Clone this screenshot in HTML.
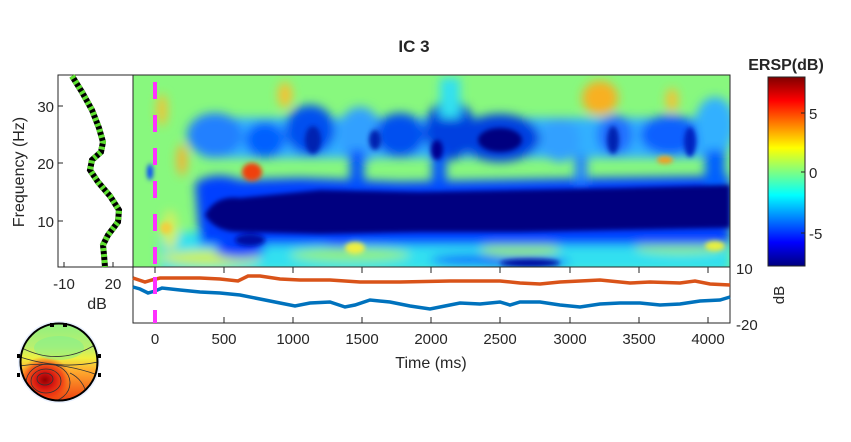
<!DOCTYPE html>
<html><head><meta charset="utf-8"><style>
body{margin:0;background:#fff;}
svg text{font-family:"Liberation Sans",Arial,sans-serif;fill:#262626;}
</style></head><body>
<svg width="851" height="437" viewBox="0 0 851 437" xmlns="http://www.w3.org/2000/svg">
<defs>
<filter id="b6" x="-50%" y="-50%" width="200%" height="200%"><feGaussianBlur stdDeviation="5"/></filter>
<filter id="b3" x="-50%" y="-50%" width="200%" height="200%"><feGaussianBlur stdDeviation="2.5"/></filter>
<clipPath id="cm"><rect x="133" y="75" width="597" height="192"/></clipPath>
<clipPath id="ct"><circle cx="59" cy="362" r="38"/></clipPath>
<linearGradient id="jet" x1="0" y1="1" x2="0" y2="0">
<stop offset="0" stop-color="#000080"/><stop offset="0.125" stop-color="#0000ff"/>
<stop offset="0.375" stop-color="#00ffff"/><stop offset="0.5" stop-color="#80ff80"/>
<stop offset="0.625" stop-color="#ffff00"/><stop offset="0.875" stop-color="#ff0000"/>
<stop offset="1" stop-color="#800000"/></linearGradient>
<linearGradient id="tg" x1="0" y1="0" x2="0" y2="1">
<stop offset="0" stop-color="#90f080"/><stop offset="0.3" stop-color="#b8f070"/>
<stop offset="0.45" stop-color="#f0f040"/><stop offset="0.6" stop-color="#ffb030"/>
<stop offset="1" stop-color="#f04010"/></linearGradient>
<radialGradient id="tr" cx="0.5" cy="0.5" r="0.5">
<stop offset="0" stop-color="#900000"/><stop offset="0.3" stop-color="#d01010"/>
<stop offset="0.7" stop-color="#f03010" stop-opacity="0.7"/><stop offset="1" stop-color="#f06010" stop-opacity="0"/></radialGradient>
</defs>
<text x="414" y="52" font-size="17" font-weight="bold" text-anchor="middle" fill="#000">IC 3</text>

<g clip-path="url(#cm)">
<rect x="133" y="75" width="597" height="192" fill="#88f87e"/>
<g filter="url(#b6)">
<rect x="160" y="232" width="570" height="40" fill="#30e0f0"/>
<ellipse cx="350" cy="255" rx="60" ry="7" fill="#90f080"/>
<ellipse cx="520" cy="250" rx="40" ry="7" fill="#90f080"/>
<ellipse cx="680" cy="248" rx="45" ry="6" fill="#90f080"/>
<ellipse cx="210" cy="258" rx="50" ry="8" fill="#c8f060"/>
<ellipse cx="240" cy="250" rx="25" ry="8" fill="#0040ff"/>
<ellipse cx="340" cy="242" rx="20" ry="5" fill="#0050ff"/>
<ellipse cx="520" cy="262" rx="50" ry="5" fill="#0050ff"/>
<ellipse cx="470" cy="260" rx="40" ry="5" fill="#0060ff"/>
<path d="M195,183 Q215,170 240,180 L300,178 L400,182 L500,180 L600,178 L730,176 L730,245 L200,245 Z" fill="#0040ff"/>
<rect x="195" y="118" width="535" height="40" rx="15" fill="#30b0ff"/>
<ellipse cx="215" cy="135" rx="28" ry="22" fill="#2080ff"/>
<ellipse cx="265" cy="140" rx="20" ry="18" fill="#0060ff"/>
<ellipse cx="310" cy="130" rx="25" ry="25" fill="#0050f0"/>
<ellipse cx="360" cy="135" rx="22" ry="28" fill="#30a0ff"/>
<ellipse cx="400" cy="135" rx="25" ry="22" fill="#0050f0"/>
<ellipse cx="450" cy="130" rx="25" ry="30" fill="#0040e0"/>
<ellipse cx="500" cy="138" rx="40" ry="24" fill="#0040e0"/>
<ellipse cx="560" cy="140" rx="20" ry="22" fill="#30a0ff"/>
<ellipse cx="615" cy="135" rx="18" ry="20" fill="#2070ff"/>
<ellipse cx="670" cy="135" rx="30" ry="20" fill="#1060ff"/>
<ellipse cx="715" cy="125" rx="20" ry="28" fill="#30b0ff"/>
<rect x="440" y="78" width="20" height="40" fill="#30e0f0"/>
<rect x="350" y="150" width="14" height="40" fill="#0050ff"/>
<rect x="432" y="150" width="14" height="40" fill="#0050ff"/>
<rect x="575" y="155" width="12" height="30" fill="#2080ff"/>
<rect x="705" y="150" width="20" height="40" fill="#0060ff"/>
<ellipse cx="285" cy="95" rx="7" ry="13" fill="#f8c030"/>
<ellipse cx="600" cy="98" rx="18" ry="17" fill="#f8b020"/>
<ellipse cx="672" cy="100" rx="6" ry="12" fill="#f8c030"/>
<ellipse cx="162" cy="110" rx="5" ry="16" fill="#f8c030"/>
<ellipse cx="182" cy="160" rx="5" ry="16" fill="#f8b030"/>
<ellipse cx="170" cy="230" rx="8" ry="20" fill="#d0f060"/>
</g>
<g filter="url(#b3)">
<path d="M205,215 Q215,195 240,198 L320,190 L420,192 L520,190 L620,188 L730,185 L730,228 L620,230 L520,232 L420,232 L320,234 L240,232 Q215,232 205,215 Z" fill="#000080"/>
<ellipse cx="252" cy="172" rx="10" ry="9" fill="#f04010"/>
<ellipse cx="150" cy="172" rx="3" ry="8" fill="#0040ff"/>
<ellipse cx="665" cy="160" rx="8" ry="4" fill="#f0a020"/>
<ellipse cx="500" cy="140" rx="22" ry="12" fill="#000080"/>
<ellipse cx="437" cy="150" rx="6" ry="10" fill="#000090"/>
<ellipse cx="375" cy="140" rx="6" ry="10" fill="#0020b0"/>
<ellipse cx="313" cy="140" rx="8" ry="14" fill="#0020b0"/>
<ellipse cx="613" cy="140" rx="6" ry="14" fill="#0020b0"/>
<ellipse cx="690" cy="142" rx="6" ry="15" fill="#0020c0"/>
<ellipse cx="250" cy="240" rx="15" ry="6" fill="#0010a0"/>
<ellipse cx="530" cy="263" rx="30" ry="4" fill="#0010a0"/>
<ellipse cx="355" cy="248" rx="10" ry="6" fill="#f0f040"/>
<ellipse cx="715" cy="246" rx="10" ry="5" fill="#e8f040"/>
<ellipse cx="166" cy="228" rx="6" ry="6" fill="#f0d040"/>
</g>
</g>
<rect x="133" y="75" width="597" height="192" fill="none" stroke="#262626" stroke-width="1"/>
<line x1="155" y1="82" x2="155" y2="267" stroke="#ff30ff" stroke-width="4" stroke-dasharray="17,16"/>

<rect x="133" y="267" width="597" height="56" fill="#fff" stroke="#262626"/>
<g stroke="#262626" stroke-width="1">
<line x1="155" y1="267" x2="155" y2="273"/><line x1="224" y1="267" x2="224" y2="273"/><line x1="293" y1="267" x2="293" y2="273"/><line x1="362" y1="267" x2="362" y2="273"/><line x1="431" y1="267" x2="431" y2="273"/><line x1="500" y1="267" x2="500" y2="273"/><line x1="570" y1="267" x2="570" y2="273"/><line x1="639" y1="267" x2="639" y2="273"/><line x1="708" y1="267" x2="708" y2="273"/>
<line x1="155" y1="323" x2="155" y2="317"/><line x1="224" y1="323" x2="224" y2="317"/><line x1="293" y1="323" x2="293" y2="317"/><line x1="362" y1="323" x2="362" y2="317"/><line x1="431" y1="323" x2="431" y2="317"/><line x1="500" y1="323" x2="500" y2="317"/><line x1="570" y1="323" x2="570" y2="317"/><line x1="639" y1="323" x2="639" y2="317"/><line x1="708" y1="323" x2="708" y2="317"/>
</g>
<polyline fill="none" stroke="#d95319" stroke-width="3.5" points="133,278 145,282 152,280 160,278 200,278 220,279 238,281 248,276 260,276 280,279 300,280 330,280 360,282 400,282 450,281 500,281 520,283 540,284 560,282 600,280 630,283 650,282 680,283 695,281 710,284 730,285"/>
<polyline fill="none" stroke="#0072bd" stroke-width="3.5" points="133,287 140,289 148,293 155,291 162,288 180,290 200,292 220,293 240,295 260,299 280,303 295,306 310,303 330,302 345,307 355,305 370,300 390,302 410,306 430,309 445,306 460,303 480,304 500,302 510,305 520,302 540,302 560,305 580,307 600,304 620,303 640,303 660,305 680,304 700,301 720,300 730,297"/>
<line x1="155" y1="267" x2="155" y2="323" stroke="#ff30ff" stroke-width="4" stroke-dasharray="17,16" stroke-dashoffset="-10"/>
<text x="736" y="274" font-size="15">10</text>
<text x="736" y="330" font-size="15">-20</text>
<text x="784" y="295" font-size="15" transform="rotate(-90 784 295)" text-anchor="middle">dB</text>
<g font-size="15" text-anchor="middle">
<text x="155" y="344">0</text><text x="224" y="344">500</text><text x="293" y="344">1000</text><text x="362" y="344">1500</text><text x="431" y="344">2000</text><text x="500" y="344">2500</text><text x="570" y="344">3000</text><text x="639" y="344">3500</text><text x="708" y="344">4000</text>
</g>
<text x="431" y="368" font-size="16" text-anchor="middle">Time (ms)</text>

<rect x="58" y="75" width="75" height="192" fill="#fff" stroke="#262626"/>
<g stroke="#262626"><line x1="58" y1="106" x2="63" y2="106"/><line x1="58" y1="163" x2="63" y2="163"/><line x1="58" y1="221" x2="63" y2="221"/><line x1="64" y1="267" x2="64" y2="262"/><line x1="113" y1="267" x2="113" y2="262"/></g>
<polyline fill="none" stroke="#000" stroke-width="6" points="72,76 82,92 92,110 99,128 103,142 101,152 92,160 90,170 98,182 110,196 119,210 118,222 108,235 103,245 104,255 105,267"/>
<polyline fill="none" stroke="#5fe030" stroke-width="6" stroke-dasharray="3,3" points="72,76 82,92 92,110 99,128 103,142 101,152 92,160 90,170 98,182 110,196 119,210 118,222 108,235 103,245 104,255 105,267"/>
<g font-size="15" text-anchor="end"><text x="54" y="112">30</text><text x="54" y="169">20</text><text x="54" y="227">10</text></g>
<text x="24" y="172" font-size="16" text-anchor="middle" transform="rotate(-90 24 172)">Frequency (Hz)</text>
<text x="64" y="289" font-size="15" text-anchor="middle">-10</text>
<text x="113" y="289" font-size="15" text-anchor="middle">20</text>
<text x="97" y="309" font-size="16" text-anchor="middle">dB</text>

<rect x="768" y="77" width="37" height="189" fill="url(#jet)" stroke="#262626"/>
<g stroke="#262626"><line x1="801" y1="113" x2="805" y2="113"/><line x1="801" y1="172" x2="805" y2="172"/><line x1="801" y1="233" x2="805" y2="233"/></g>
<g font-size="15"><text x="809" y="119">5</text><text x="809" y="178">0</text><text x="809" y="239">-5</text></g>
<text x="786" y="70" font-size="16" font-weight="bold" text-anchor="middle" fill="#000">ERSP(dB)</text>

<circle cx="59" cy="362" r="41" fill="#e8f0ff"/>
<g clip-path="url(#ct)">
<rect x="20" y="323" width="78" height="78" fill="url(#tg)"/>
<ellipse cx="45" cy="380" rx="26" ry="24" fill="url(#tr)"/>
<ellipse cx="59" cy="348" rx="25" ry="12" fill="#80f090" opacity="0.5"/>
<g fill="none" stroke="#333" stroke-width="0.8">
<path d="M20,347 Q60,368 98,343"/><path d="M20,357 Q60,370 98,362"/><path d="M20,366 Q55,360 98,375"/>
<ellipse cx="45" cy="379" rx="8" ry="6"/><ellipse cx="46" cy="381" rx="15" ry="12"/><ellipse cx="48" cy="383" rx="22" ry="19"/><path d="M70,373 Q85,380 88,400"/>
</g></g>
<circle cx="59" cy="362" r="38.5" fill="none" stroke="#000" stroke-width="2"/>
<g fill="#000"><rect x="50" y="323" width="4" height="4"/><rect x="63" y="323" width="4" height="4"/><rect x="17" y="354" width="3" height="4"/><rect x="98" y="354" width="3" height="4"/><rect x="17" y="373" width="3" height="4"/><rect x="98" y="373" width="3" height="4"/></g>
</svg>
</body></html>
